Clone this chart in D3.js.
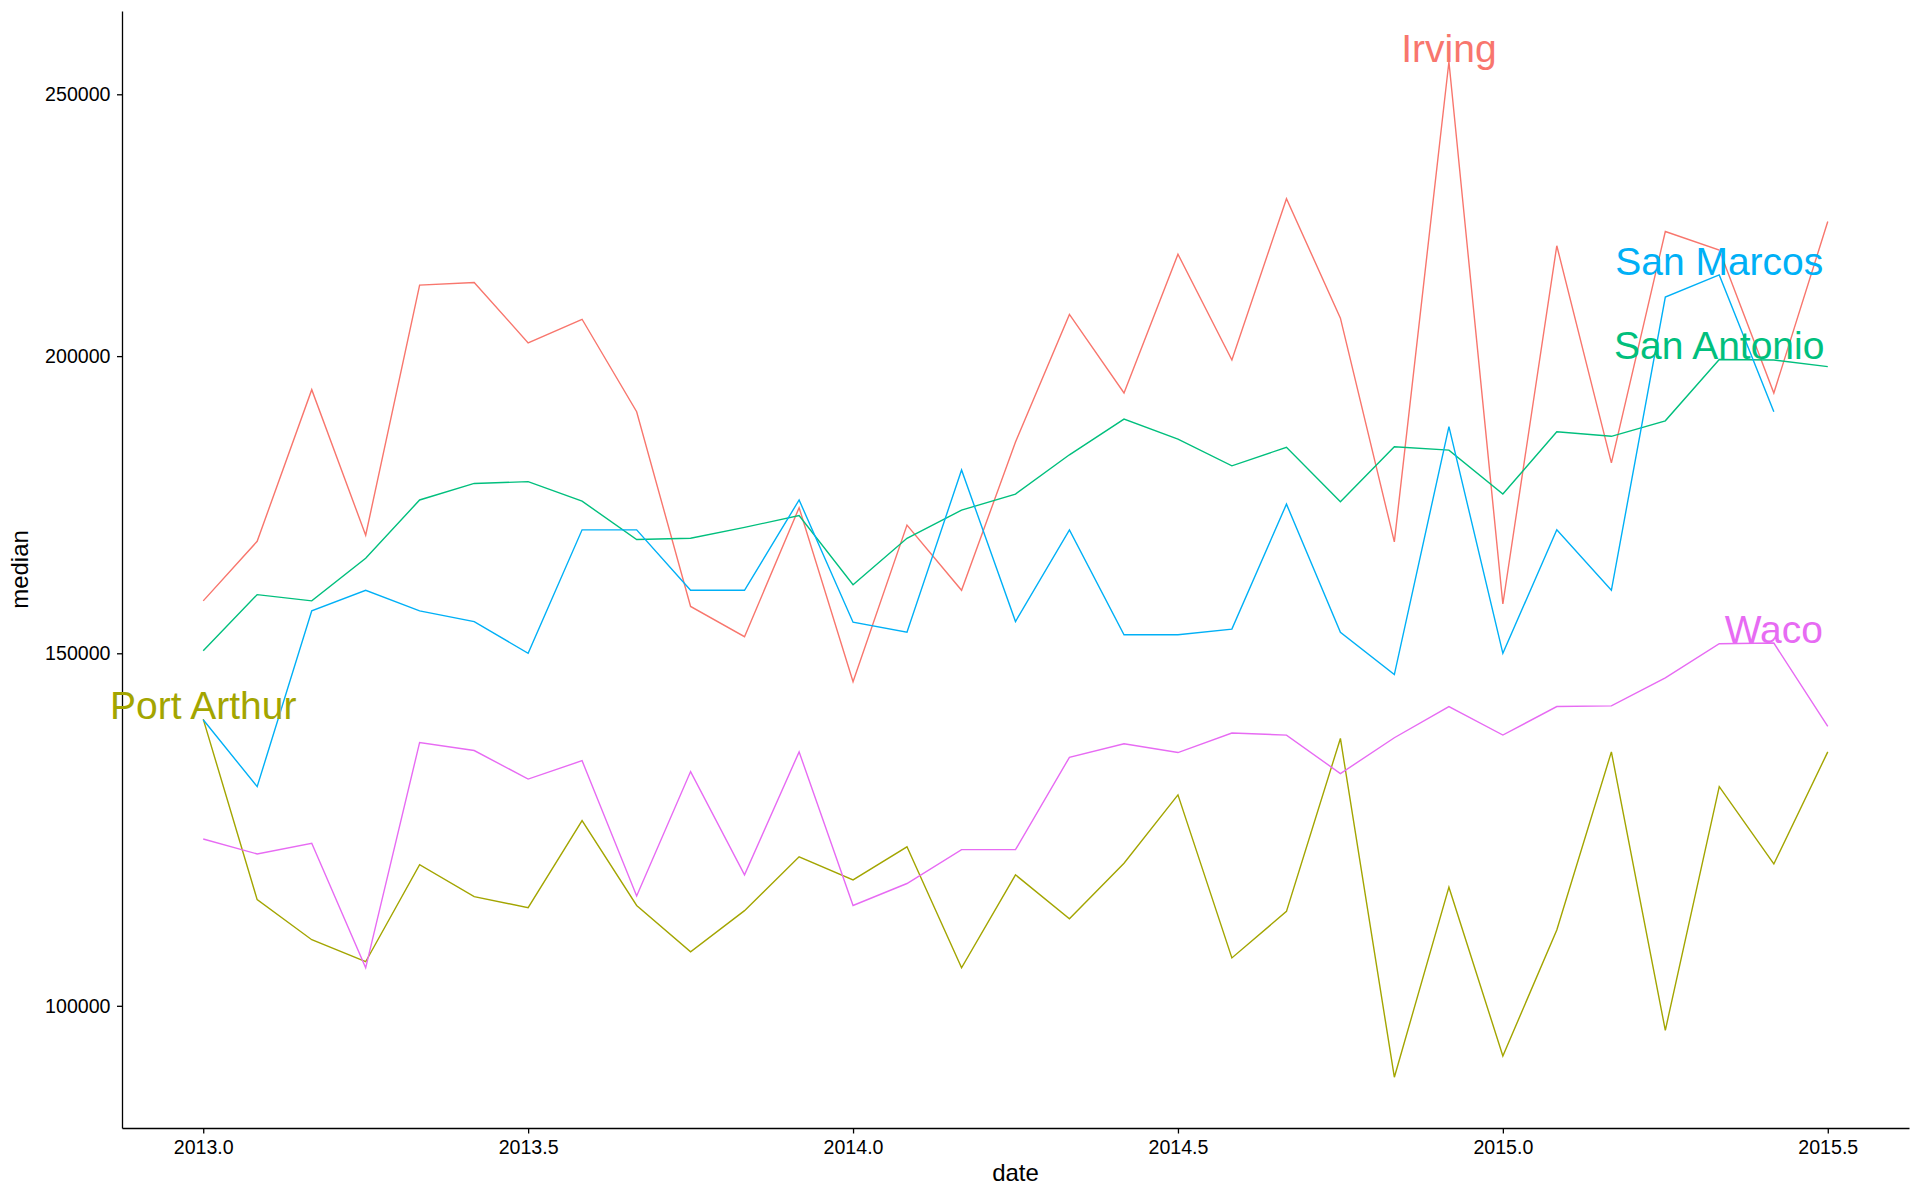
<!DOCTYPE html>
<html>
<head>
<meta charset="utf-8">
<script src="https://cdn.jsdelivr.net/npm/d3@7"></script>
<style>
  body { margin: 0; background: #fff; }
  text { font-family: "Liberation Sans", Arial, Helvetica, sans-serif; }
</style>
</head>
<body>
<div id="graph"></div>
<script>
// monthly dates, decimal years
const dates = [2013.000, 2013.083, 2013.167, 2013.250, 2013.333, 2013.417, 2013.500, 2013.583, 2013.667, 2013.750, 2013.833, 2013.917,
               2014.000, 2014.083, 2014.167, 2014.250, 2014.333, 2014.417, 2014.500, 2014.583, 2014.667, 2014.750, 2014.833, 2014.917,
               2015.000, 2015.083, 2015.167, 2015.250, 2015.333, 2015.417, 2015.500];

const cities = ["Irving", "Port Arthur", "San Antonio", "San Marcos", "Waco"];
const colors = ["#F8766D", "#A3A500", "#00BF7D", "#00B0F6", "#E76BF3"];

const irving = [158300, 168000, 194000, 169000, 213000, 213500, 202400, 206700, 190100, 157400, 152600, 173600,
                145600, 170700, 160000, 184800, 207600, 193400, 218800, 199300, 229400, 206900, 167900, 256600,
                157800, 220400, 181200, 223100, 219600, 193400, 225000];
const portArthur = [139900, 114000, 108600, 105700, 118800, 114400, 112900, 125000, 113200, 107000, 112500, 119900,
                    116700, 121300, 104900, 117400, 111400, 119000, 128700, 106200, 112400, 137000, 91100, 115700,
                    93700, 109900, 135000, 96900, 129900, 118900, 135000];
const sanAntonio = [150400, 159300, 158300, 165200, 174900, 177700, 178000, 174700, 168300, 168500, 170300, 172300,
                    160900, 168500, 173200, 175900, 182600, 188800, 185300, 180700, 183900, 174600, 184000, 183400,
                    175900, 186600, 185800, 188500, 199400, 199300, 198100];
const sanMarcos = [139800, 129900, 156700, 160000, 156700, 155000, 150000, 169900, 169900, 160000, 160000, 174900,
                   154900, 153300, 180000, 155000, 169900, 152900, 152900, 153800, 174200, 153300, 146700, 187500,
                   150000, 169900, 160000, 210800, 214900, 190100];
const waco = [122400, 120300, 121800, 104900, 136400, 135200, 131000, 133700, 114500, 132100, 117400, 135000,
              113200, 116200, 120900, 120900, 134200, 136200, 134900, 137800, 137500, 131800, 137100, 141800,
              137500, 141800, 141900, 146200, 151500, 151600, 138800];

const xTicks = [2013.0, 2013.5, 2014.0, 2014.5, 2015.0, 2015.5];
const yTicks = [100000, 150000, 200000, 250000];

const series = [irving, portArthur, sanAntonio, sanMarcos, waco].map((vals, k) => ({
    name: cities[k],
    color: colors[k],
    points: vals.map((v, i) => ({ date: dates[i], median: v }))
}));

let margin = { top: 11, right: 11, bottom: 72, left: 122 },
    width = 1920 - margin.left - margin.right,
    height = 1200 - margin.top - margin.bottom;

let svg = d3.select("#graph")
    .append("svg")
    .attr("width", width + margin.left + margin.right)
    .attr("height", height + margin.top + margin.bottom)
    .append("g")
    .attr("transform", "translate(" + margin.left + "," + margin.top + ")");

// ggplot-like 5% expansion (in sqrt space for y)
let xExt = d3.extent(dates);
let xPad = (xExt[1] - xExt[0]) * 0.05;
let x = d3.scaleLinear()
    .domain([xExt[0] - xPad, xExt[1] + xPad])
    .range([0, width]);

let all = series.flatMap(s => s.points.map(p => Math.sqrt(p.median)));
let lo = d3.min(all), hi = d3.max(all);
let yPad = (hi - lo) * 0.05;
let y = d3.scaleSqrt()
    .domain([(lo - yPad) ** 2, (hi + yPad) ** 2])
    .range([height, 0]);

// Axes
let xAxis = svg.append("g")
    .attr("transform", "translate(0," + height + ")")
    .call(d3.axisBottom(x).tickValues(xTicks).tickFormat(d3.format(".1f")).tickSize(5.5).tickPadding(6.5).tickSizeOuter(0));
let yAxis = svg.append("g")
    .call(d3.axisLeft(y).tickValues(yTicks).tickFormat(d3.format("d")).tickSize(5).tickPadding(6.5).tickSizeOuter(0));

[xAxis, yAxis].forEach(a => {
    a.select(".domain").attr("stroke", "#000").attr("stroke-width", 1.3);
    a.selectAll(".tick line").attr("stroke", "#000").attr("stroke-width", 1.3);
    a.selectAll(".tick text").attr("fill", "#000").style("font-size", "19.6px");
});

svg.append("text")
    .attr("x", width / 2)
    .attr("y", height + 53)
    .attr("text-anchor", "middle")
    .style("font-size", "24px")
    .text("date");

svg.append("text")
    .attr("transform", "translate(" + (-94) + "," + (height / 2) + ") rotate(-90)")
    .attr("text-anchor", "middle")
    .style("font-size", "24px")
    .text("median");

// Lines
let line = d3.line()
    .x(d => x(d.date))
    .y(d => y(d.median));

svg.append("g")
    .selectAll("path")
    .data(series)
    .enter()
    .append("path")
    .attr("d", d => line(d.points))
    .attr("fill", "none")
    .attr("stroke", d => d.color)
    .attr("stroke-width", 1.4);

// Labels at each city's highest point
svg.append("g")
    .selectAll("text")
    .data(series)
    .enter()
    .append("text")
    .attr("x", d => x(d3.greatest(d.points, p => p.median).date))
    .attr("y", d => y(d3.greatest(d.points, p => p.median).median))
    .attr("text-anchor", "middle")
    .attr("fill", d => d.color)
    .style("font-size", "39px")
    .text(d => d.name);
</script>
</body>
</html>
